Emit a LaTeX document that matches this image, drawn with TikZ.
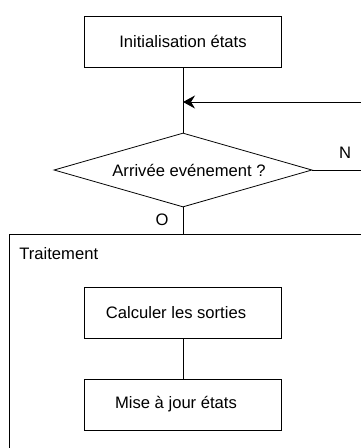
\documentclass[tikz,border=0pt]{standalone}
\usepackage{fontspec}
\setmainfont{Liberation Sans}
\usetikzlibrary{shapes.geometric,arrows.meta}
\begin{document}
\begin{tikzpicture}[x=1pt,y=-1pt,
  line width=0.8pt,
  every node/.style={font=\fontsize{16.6}{20}\selectfont},
  procbox/.style={draw, rectangle, minimum width=197pt, minimum height=51pt, inner sep=0pt},
  decision/.style={draw, diamond, aspect=3.49, minimum width=258pt, minimum height=74pt, inner sep=0pt},
  flow/.style={draw, line width=0.8pt},
  loopback/.style={draw, -{Stealth[length=12pt,width=13pt,inset=4pt]}}
]
\useasboundingbox (0,0) rectangle (361,448);

% main flow
\node[procbox] (init) at (183,41.5) {Initialisation états};
\coordinate (join) at (183,102);
\coordinate (back) at (361,102);
\node[decision, label={[xshift=6pt]center:Arrivée evénement ?}] (ask) at (183,170) {};
\coordinate (exitN) at (361,170);
\node (lblN) at (345,153) {N};
\node (lblO) at (162,220) {O};
\coordinate (enter) at (183,234);

\draw[flow] (init.south) -- (ask.north);
\draw[loopback] (back) -- (join);
\draw[flow] (ask.east) -- (exitN);
\draw[flow] (ask.south) -- (enter);

% processing block
\draw[flow] (361,234) -- (9,234) -- (9,448);
\node[anchor=west, inner sep=0pt] (treat) at (19,254) {Traitement};
\node[procbox, label={[xshift=-7pt]center:Calculer les sorties}] (calc) at (183,313) {};
\node[procbox, label={[xshift=-7pt]center:Mise à jour états}] (maj) at (183,404.5) {};
\draw[flow] (calc.south) -- (maj.north);
\end{tikzpicture}
\end{document}
